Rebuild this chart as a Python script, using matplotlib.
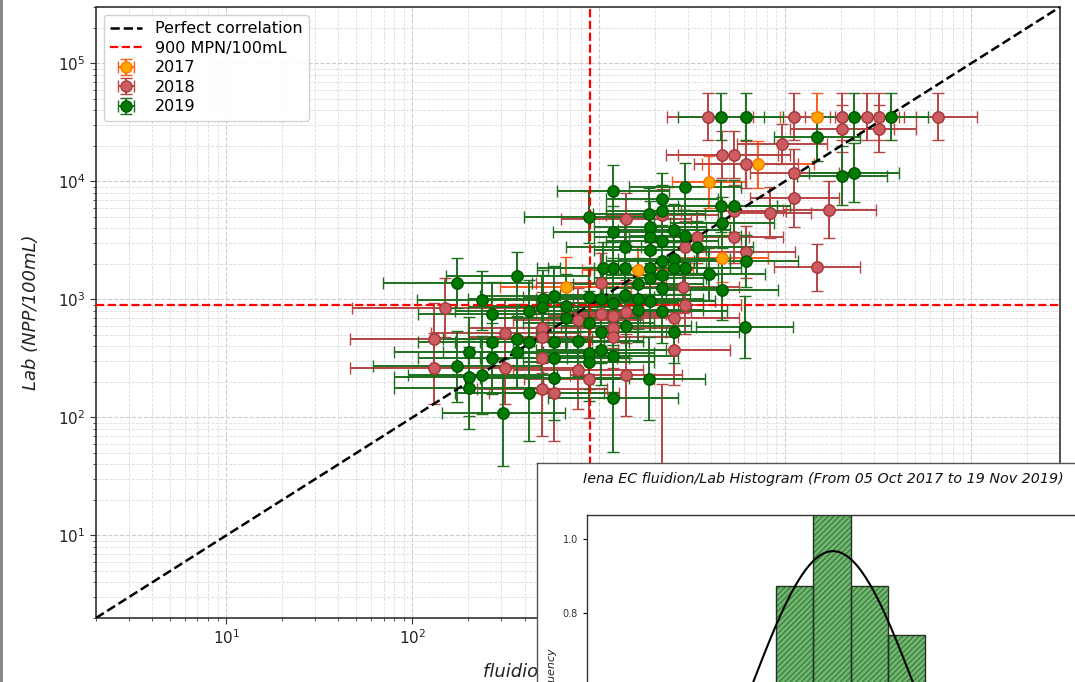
import numpy as np
import matplotlib
matplotlib.use("Agg")
import matplotlib.pyplot as plt
from matplotlib.patches import Rectangle

# ---------------- data ----------------
# 2017 : fluidion (x), lab (y), half-width of error bars in decades
x17 = [14900, 7185, 3919, 4575, 1618, 664]
y17 = [35400, 14000, 9845, 2236, 1778, 1276]
dx17 = [0.2, 0.3, 0.2, 0.25, 0.3, 0.35]
dy17 = [0.2, 0.2, 0.22, 0.2, 0.2, 0.25]

# 2018
x18 = [3873, 11220, 20290, 27660, 32090, 66530, 20290, 32090, 9668, 4600,
       5337, 6194, 11220, 11220, 17290, 8337, 5300, 3380, 5337, 2912,
       6194, 14900, 2850, 2912, 1400, 2193, 1031, 2543, 2543, 1400,
       1196, 1031, 776, 1196, 1196, 776, 890, 1400, 497, 577,
       497, 497, 497, 316, 316, 150, 130, 130, 2193]
y18 = [35400, 35400, 35400, 35400, 35400, 35400, 27860, 27860, 20800, 16780,
       16780, 14000, 11880, 7160, 5740, 5445, 5660, 3400, 3350, 2803,
       2513, 1875, 1276, 899, 4786, 5200, 1390, 693, 373, 789,
       724, 750, 670, 575, 484, 250, 210, 229, 175, 160,
       575, 478, 322, 517, 260, 853, 465, 260, 13.5]
dx18 = [0.22, 0.22, 0.2, 0.2, 0.2, 0.21, 0.28, 0.2, 0.24, 0.3,
        0.3, 0.28, 0.24, 0.24, 0.25, 0.22, 0.28, 0.28, 0.26, 0.3,
        0.26, 0.23, 0.3, 0.3, 0.35, 0.3, 0.35, 0.35, 0.3, 0.35,
        0.35, 0.35, 0.35, 0.35, 0.35, 0.35, 0.35, 0.3, 0.35, 0.35,
        0.4, 0.4, 0.4, 0.4, 0.4, 0.5, 0.45, 0.45, 0.3]
dy18 = [0.2, 0.2, 0.2, 0.2, 0.2, 0.2, 0.2, 0.2, 0.17, 0.2,
        0.2, 0.2, 0.2, 0.24, 0.24, 0.22, 0.22, 0.22, 0.22, 0.22,
        0.22, 0.2, 0.22, 0.25, 0.22, 0.22, 0.25, 0.25, 0.3, 0.27,
        0.27, 0.27, 0.27, 0.27, 0.27, 0.33, 0.33, 0.35, 0.4, 0.4,
        0.3, 0.3, 0.3, 0.3, 0.3, 0.25, 0.3, 0.3, 1.15]

# 2019
x19 = [4530, 6194, 23550, 37220, 14900, 20290, 23550, 2912, 1196, 4530,
       5337, 2193, 2193, 890, 1866, 4600, 1190, 1889, 2543, 2912,
       1387, 1889, 1889, 2193, 3380, 2193, 2543, 6194, 3919, 4575,
       6100, 2912, 1050, 1196, 1387, 1889, 2193, 2543, 365, 174,
       1630, 1889, 2193, 237, 500, 577, 883, 1031, 1196, 1387,
       1630, 1889, 268, 423, 664, 664, 497, 883, 1630, 2193,
       1400, 2543, 1031, 776, 268, 365, 423, 577, 1031, 1190,
       201, 365, 577, 577, 268, 883, 883, 174, 237, 201,
       201, 423, 1196, 1866, 307]
y19 = [35400, 35400, 35400, 35400, 23710, 11200, 11880, 9040, 8360, 6240,
       6240, 7110, 5630, 5030, 5305, 4480, 3757, 4080, 3882, 3420,
       2803, 3350, 2628, 3133, 2803, 2100, 2180, 2110, 1650, 1200,
       585, 1830, 1840, 1850, 1830, 1850, 1610, 1830, 1583, 1380,
       1360, 1510, 1260, 980, 1000, 1075, 1050, 1000, 925, 1100,
       1000, 960, 755, 790, 880, 700, 870, 630, 815, 800,
       590, 534, 534, 445, 439, 460, 439, 439, 373, 330,
       356, 360, 317, 214, 316, 350, 293, 271, 230, 218,
       178, 160, 145, 213, 110]
dx19 = [0.23, 0.2, 0.2, 0.2, 0.23, 0.24, 0.24, 0.3, 0.3, 0.3,
        0.3, 0.3, 0.3, 0.35, 0.3, 0.28, 0.32, 0.3, 0.3, 0.3,
        0.32, 0.3, 0.3, 0.3, 0.3, 0.3, 0.3, 0.28, 0.3, 0.3,
        0.26, 0.3, 0.35, 0.35, 0.35, 0.3, 0.3, 0.3, 0.38, 0.4,
        0.35, 0.3, 0.3, 0.35, 0.4, 0.4, 0.35, 0.35, 0.35, 0.35,
        0.35, 0.35, 0.4, 0.4, 0.4, 0.4, 0.4, 0.35, 0.35, 0.35,
        0.35, 0.35, 0.35, 0.35, 0.4, 0.4, 0.4, 0.4, 0.35, 0.35,
        0.4, 0.4, 0.4, 0.4, 0.4, 0.35, 0.35, 0.45, 0.4, 0.4,
        0.4, 0.4, 0.35, 0.3, 0.33]
dy19 = [0.2, 0.2, 0.2, 0.2, 0.2, 0.25, 0.25, 0.2, 0.22, 0.22,
        0.22, 0.22, 0.22, 0.22, 0.22, 0.22, 0.22, 0.22, 0.22, 0.22,
        0.22, 0.22, 0.22, 0.22, 0.22, 0.22, 0.22, 0.22, 0.22, 0.25,
        0.26, 0.22, 0.22, 0.22, 0.22, 0.22, 0.22, 0.22, 0.2, 0.21,
        0.22, 0.22, 0.22, 0.25, 0.25, 0.25, 0.25, 0.25, 0.25, 0.25,
        0.25, 0.25, 0.27, 0.27, 0.27, 0.27, 0.27, 0.27, 0.27, 0.27,
        0.27, 0.27, 0.27, 0.3, 0.3, 0.3, 0.3, 0.3, 0.3, 0.3,
        0.3, 0.3, 0.3, 0.35, 0.3, 0.3, 0.33, 0.3, 0.33, 0.33,
        0.35, 0.4, 0.45, 0.35, 0.45]

threshold = 900
axis_limits = [2, 3e5]

# histogram inset (fluidion/Lab)
hist_edges = [-0.28, -0.097, 0.087, 0.27, 0.455]
hist_heights = [0.875, 1.10, 0.875, 0.743]
fit_mu = 0.0
fit_sigma = 0.412

hist_title = "Iena EC fluidion/Lab Histogram (From 05 Oct 2017 to 19 Nov 2019)"

# ---------------- figure ----------------
W, H = 1075, 682
fig = plt.figure(figsize=(W / 100, H / 100), dpi=100)
fig.patch.set_facecolor("white")


def fr(x0, y0, x1, y1):
    """pixel box (top-left origin) -> figure fraction rect"""
    return [x0 / W, (H - y1) / H, (x1 - x0) / W, (y1 - y0) / H]


ax = fig.add_axes(fr(96, 7, 1060, 618))
ax.set_xscale("log")
ax.set_yscale("log")
ax.set_xlim(axis_limits)
ax.set_ylim(axis_limits)

ax.grid(True, which="major", ls="--", color="#cccccc", lw=0.8)
ax.grid(True, which="minor", ls="--", color="#dcdcdc", lw=0.6)
ax.set_axisbelow(True)

styles = [
    ("2017", x17, y17, dx17, dy17, "#ffa500", "#ff7a00", "#ff5a1f"),
    ("2018", x18, y18, dx18, dy18, "#cd5c62", "#a83c3c", "#b84444"),
    ("2019", x19, y19, dx19, dy19, "#007a00", "#005a00", "#1e701e"),
]
handles = []
for lab, xs, ys, dxs, dys, fc, ec, erc in styles:
    xs = np.array(xs, float)
    ys = np.array(ys, float)
    dxs = np.array(dxs)
    dys = np.array(dys)
    xerr = [xs - xs * 10 ** (-dxs), xs * 10 ** dxs - xs]
    yerr = [ys - ys * 10 ** (-dys), ys * 10 ** dys - ys]
    h = ax.errorbar(xs, ys, xerr=xerr, yerr=yerr, fmt="o", ms=8,
                    mfc=fc, mec=ec, mew=1.0, ecolor=erc, elinewidth=1.4,
                    capsize=4, capthick=1.4, label=lab, zorder=2)
    handles.append(h)

line_pc, = ax.plot(axis_limits, axis_limits, ls="--", color="black", lw=1.8,
                   label="Perfect correlation", zorder=3)
line_th = ax.axvline(threshold, ls="--", color="red", lw=1.6,
                     label="900 MPN/100mL", zorder=3)
ax.axhline(threshold, ls="--", color="red", lw=1.6, zorder=3)

# markers on top of reference lines
for lab, xs, ys, dxs, dys, fc, ec, erc in styles:
    ax.plot(xs, ys, "o", ms=8, mfc=fc, mec=ec, mew=1.0, ls="none", zorder=4)

ax.legend([line_pc, line_th] + handles,
          ["Perfect correlation", "900 MPN/100mL", "2017", "2018", "2019"],
          loc="upper left", fontsize=11.5, labelspacing=0.28,
          borderaxespad=0.5, framealpha=0.9, edgecolor="#cccccc")

for sp in ax.spines.values():
    sp.set_color("#333333")
    sp.set_linewidth(1.2)
ax.tick_params(axis="both", which="major", labelsize=11, length=4,
               color="#333333", labelcolor="#222222")
ax.tick_params(axis="both", which="minor", length=2.5, color="#333333")

ax.set_ylabel("Lab (NPP/100mL)", fontsize=13, style="italic", color="#222222")
ax.yaxis.set_label_coords(-0.058, 0.5)
ax.set_xlabel("fluidion (NPP/100mL)", fontsize=13, style="italic", color="#222222")
ax.xaxis.set_label_coords(0.5, -0.0736)

# screenshot edge
fig.patches.append(Rectangle((0, 0), 3 / W, 1, transform=fig.transFigure,
                             facecolor="#8a8a8a", edgecolor="none", zorder=0))

# ---------------- inset histogram ----------------
ax_box = fig.add_axes(fr(537, 463, 1200, 800), zorder=10)
ax_box.set_facecolor("white")
ax_box.set_xticks([])
ax_box.set_yticks([])
for sp in ax_box.spines.values():
    sp.set_color("#555555")
    sp.set_linewidth(1.0)

hx0, hx1, hy_top = 587, 1120, 515
ymax = 1.066
px_per_unit_y = 74 / 0.2
hy_bot = hy_top + ymax * px_per_unit_y
ax_h = fig.add_axes(fr(hx0, hy_top, hx1, hy_bot), zorder=11)
ax_h.set_facecolor("white")
px_per_unit_x = 203.0
x_center_px = 833
ax_h.set_xlim((hx0 - x_center_px) / px_per_unit_x, (hx1 - x_center_px) / px_per_unit_x)
ax_h.set_ylim(0, ymax)

edges = np.array(hist_edges)
widths = np.diff(edges)
ax_h.bar(edges[:-1], hist_heights, width=widths, align="edge",
         color="#72b872", edgecolor="#3f803f", hatch="//////", lw=0, zorder=2)
ax_h.bar(edges[:-1], hist_heights, width=widths, align="edge",
         fill=False, edgecolor="#223322", lw=1.0, zorder=3)

xx = np.linspace(-1.2, 1.4, 400)
pdf = np.exp(-0.5 * ((xx - fit_mu) / fit_sigma) ** 2) / (fit_sigma * np.sqrt(2 * np.pi))
ax_h.plot(xx, pdf, color="black", lw=1.5, zorder=4)

ax_h.set_yticks([0.6, 0.8, 1.0])
ax_h.set_yticklabels(["0.6", "0.8", "1.0"])
ax_h.set_xticks([])
ax_h.tick_params(axis="y", labelsize=7, length=3, labelcolor="#333333")
for sp in ax_h.spines.values():
    sp.set_color("#333333")
    sp.set_linewidth(1.0)
ax_h.set_ylabel("Frequency", fontsize=8, style="italic", color="#222222")
ax_h.yaxis.set_label_coords((557 - hx0) / (hx1 - hx0), (hy_bot - 677) / (hy_bot - hy_top))
ax_h.text((823 - hx0) / (hx1 - hx0), (hy_bot - 479) / (hy_bot - hy_top), hist_title,
          transform=ax_h.transAxes, ha="center", va="center", fontsize=10.3,
          style="italic", color="#111111")

fig.savefig("out.png", dpi=100)
